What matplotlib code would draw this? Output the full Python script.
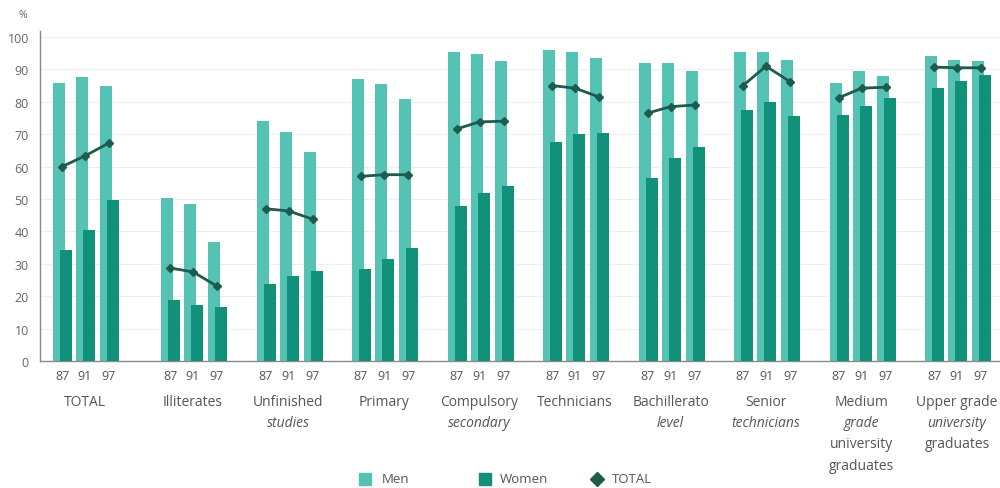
import matplotlib
matplotlib.use("Agg")
import matplotlib.pyplot as plt
from matplotlib.lines import Line2D
import numpy as np

plt.rcParams['font.family'] = ['Open Sans', 'DejaVu Sans']

# Activity rates by education level (%), for 1987, 1991 and 1997
categories = ["TOTAL", "Illiterates", "Unfinished studies", "Primary",
              "Compulsory secondary", "Technicians", "Bachillerato level",
              "Senior technicians", "Medium grade university graduates",
              "Upper grade university graduates"]
years = ["87", "91", "97"]

men = [
    [85.8, 87.7, 84.9],
    [50.3, 48.5, 36.7],
    [74.0, 70.7, 64.5],
    [87.0, 85.5, 81.0],
    [95.5, 94.7, 92.5],
    [96.0, 95.5, 93.5],
    [92.0, 92.0, 89.5],
    [95.5, 95.5, 93.0],
    [85.8, 89.5, 88.0],
    [94.0, 93.0, 92.5],
]
women = [
    [34.3, 40.4, 49.7],
    [18.8, 17.3, 16.7],
    [23.8, 26.3, 27.8],
    [28.3, 31.5, 35.0],
    [47.9, 52.0, 54.0],
    [67.5, 70.0, 70.5],
    [56.5, 62.5, 66.0],
    [77.5, 80.0, 75.5],
    [76.0, 78.7, 81.2],
    [84.2, 86.3, 88.3],
]
total = [
    [60.0, 63.3, 67.3],
    [28.7, 27.5, 23.1],
    [47.0, 46.3, 43.8],
    [57.0, 57.5, 57.5],
    [71.6, 73.8, 74.0],
    [85.0, 84.2, 81.5],
    [76.5, 78.5, 79.0],
    [85.0, 91.0, 86.2],
    [81.2, 84.2, 84.5],
    [90.7, 90.5, 90.5],
]

# Label lines; second element marks italic lines
label_lines = [
    [("TOTAL", False)],
    [("Illiterates", False)],
    [("Unfinished", False), ("studies", True)],
    [("Primary", False)],
    [("Compulsory", False), ("secondary", True)],
    [("Technicians", False)],
    [("Bachillerato", False), ("level", True)],
    [("Senior", False), ("technicians", True)],
    [("Medium", False), ("grade", True), ("university", False), ("graduates", False)],
    [("Upper grade", False), ("university", True), ("graduates", False)],
]

c_men = '#55c3b3'
c_women = '#11907a'
c_total = '#1d5b4c'
c_text = '#555555'

fig = plt.figure(figsize=(10, 4.89), dpi=100)
W, H = 1000, 489
ax = fig.add_axes([40 / W, 127 / H, 960 / W, 330.5 / H])

# Group layout (axis units = pixels along the x-axis)
centers = np.array([45] + [153 + 95.5 * (i - 1) for i in range(1, len(categories))])
offsets = np.array([-23, 0, 24])
bar_w = 12

for g, c in enumerate(centers):
    xs = c + offsets
    ax.bar(xs - 3, men[g], width=bar_w, color=c_men, zorder=2)
    ax.bar(xs + 4, women[g], width=bar_w, color=c_women, zorder=3)
    ax.plot(xs, total[g], color=c_total, lw=2, marker='D', ms=4.5, zorder=4)

ax.set_xlim(0, 960)
ax.set_ylim(0, 102)
ax.set_yticks(range(0, 101, 10))
ax.tick_params(axis='y', length=0, labelsize=9, labelcolor='#666666', pad=8)
ax.grid(axis='y', color='#efefef', lw=0.8, zorder=0)
ax.set_axisbelow(True)

all_x = np.concatenate([c + offsets for c in centers])
ax.set_xticks(all_x)
ax.set_xticklabels(years * len(categories))
ax.tick_params(axis='x', length=0, labelsize=9, labelcolor=c_text, pad=6)

for s in ['top', 'right']:
    ax.spines[s].set_visible(False)
for s in ['left', 'bottom']:
    ax.spines[s].set_color('#8a8a8a')
    ax.spines[s].set_linewidth(1)

fig.text(23 / W, 1 - 16 / H, "%", fontsize=7.5, color='#666666', ha='center', va='center')

# Category labels under each group
for g, c in enumerate(centers):
    xfig = (40 + c) / W
    for k, (txt, ital) in enumerate(label_lines[g]):
        y_px = 402 + 21.5 * k
        fig.text(xfig, 1 - y_px / H, txt, fontsize=10, color=c_text,
                 style='italic' if ital else 'normal', ha='center', va='center')

# Legend row along the bottom
legend_items = [
    (365, 382, 's', 8, c_men, "Men"),
    (485, 500, 's', 8, c_women, "Women"),
    (597, 612, 'D', 7, c_total, "TOTAL"),
]
y_leg = 1 - 480 / H
for xm, xt, mk, ms, col, lab in legend_items:
    fig.add_artist(Line2D([xm / W], [y_leg], ls='none', marker=mk, ms=ms,
                          color=col, transform=fig.transFigure))
    fig.text(xt / W, y_leg, lab, fontsize=9.5, color=c_text, ha='left', va='center')

fig.savefig("out.png", dpi=100)
